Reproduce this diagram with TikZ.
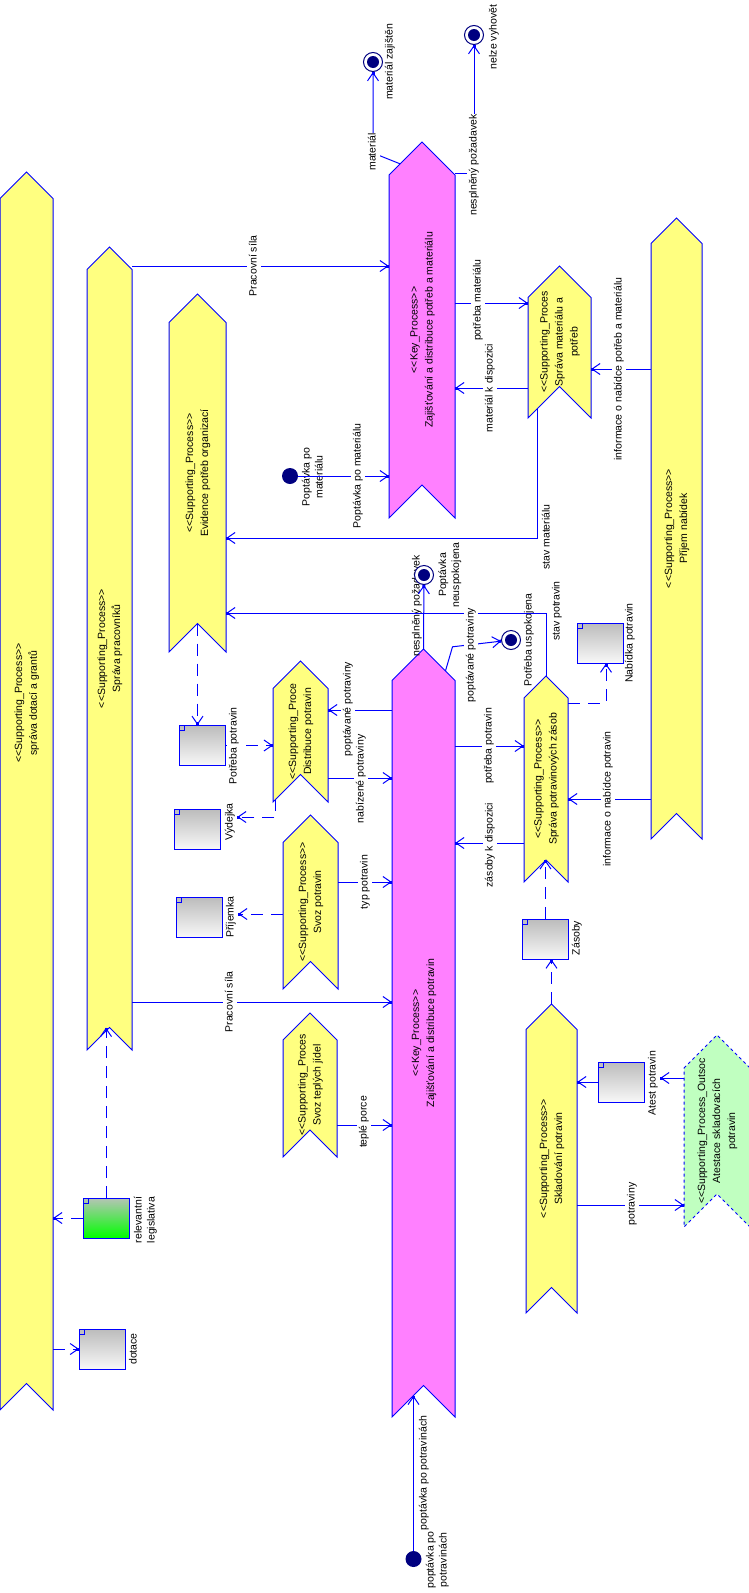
\documentclass[tikz,border=0pt]{standalone}
\usepackage{fontspec}
\setmainfont{Liberation Sans}
\usepackage{graphicx}
\usepackage{tikz}
\usetikzlibrary{shapes.misc, arrows.meta, calc}
\definecolor{procyellow}{RGB}{255,255,128}
\definecolor{keypink}{RGB}{255,128,255}
\definecolor{outgreen}{RGB}{192,255,192}
\definecolor{lineblue}{RGB}{0,0,255}
\definecolor{dotnavy}{RGB}{0,0,128}
\definecolor{docgray}{RGB}{188,188,188}
\definecolor{docwhite}{RGB}{248,248,248}
\definecolor{legtop}{RGB}{182,196,182}
\definecolor{legbot}{RGB}{0,255,0}
% rotated text, reading upwards
\newcommand{\vt}[1]{\rotatebox{90}{\begin{tabular}{@{}c@{}}#1\end{tabular}}}
\newcommand{\vtz}[1]{\rotatebox{90}{\makebox[0pt]{\begin{tabular}{@{}c@{}}#1\end{tabular}}}}
\newcommand{\stO}{<\kern0pt<}
\newcommand{\stC}{>\kern0pt>}
% process banner: style, name, centre x, tip y, bottom y, width, text
\newcommand{\banner}[7]{%
  \draw[#1] ({#3-#6/2},{#4+#6/2}) -- (#3,#4) -- ({#3+#6/2},{#4+#6/2})
    -- ({#3+#6/2},#5) -- (#3,{#5-#6/2}) -- ({#3-#6/2},#5) -- cycle;
  \node[proctxt, minimum width=#6, minimum height={#5-#4}] (#2)
    at (#3,{(#4+#5)/2}) {#7};}
\tikzset{
  procbody/.style={draw=lineblue, fill=procyellow, line width=1pt},
  keybody/.style={procbody, fill=keypink},
  outbody/.style={procbody, fill=outgreen, dash pattern=on 3pt off 3pt},
  proctxt/.style={rectangle, inner sep=0pt, font=\fontsize{10.5}{15}\selectfont},
  doc/.style={chamfered rectangle, chamfered rectangle corners=north west,
    chamfered rectangle xsep=5pt, chamfered rectangle ysep=5pt,
    draw=lineblue, line width=1pt, top color=docgray, bottom color=docwhite,
    minimum width=46, minimum height=40, inner sep=0pt,
    path picture={\draw[lineblue, line width=0.6pt]
      ([yshift=-5pt]path picture bounding box.north west)
      -| ([xshift=5pt]path picture bounding box.north west);}},
  finalst/.style={circle, draw=dotnavy, line width=1pt, fill=white,
    minimum size=19pt, inner sep=0pt,
    path picture={\fill[dotnavy] (path picture bounding box.center) circle (6pt);}},
  initst/.style={circle, fill=dotnavy, minimum size=16pt, inner sep=0pt},
  lbl/.style={inner sep=0.5pt, font=\fontsize{10.5}{13}\selectfont},
  onlbl/.style={lbl, fill=white},
  flow/.style={draw=lineblue, line width=1pt,
    -{Straight Barb[length=8pt,width=11pt,sep=-3pt]Square[length=3pt,width=3pt]}},
  dflow/.style={flow, dash pattern=on 12pt off 8pt}
}

\begin{document}
\begin{tikzpicture}[x=1pt, y=-1pt]
  \useasboundingbox (0,0) rectangle (749,1593);
  % ── processes ─────────────────────────────────────────────────────────────
  \banner{procbody}{dotace}{26.5}{172}{1410}{53}{}
  \node[proctxt] (dotaceTxt) at (26.5,703)
    {\vtz{\stO Supporting\_Process\stC\\správa dotací a grantů}};
  \banner{procbody}{pracov}{109.5}{247}{1050}{45}
    {\vtz{\stO Supporting\_Process\stC\\Správa pracovníků}}
  \banner{procbody}{evid}{197.5}{294}{652}{57}
    {\vtz{\stO Supporting\_Process\stC\\Evidence potřeb organizací}}
  \banner{keybody}{keyMat}{422}{142}{518}{66}
    {\vtz{\stO Key\_Process\stC\\Zajišťování a distribuce potřeb a materiálu}}
  \banner{procbody}{sprMat}{559.5}{266}{418}{63}
    {\vtz{\stO Supporting\_Proces\\Správa materiálu a\\potřeb}}
  \banner{procbody}{prijem}{676.5}{218}{839}{51}
    {\vtz{\stO Supporting\_Process\stC\\Příjem nabídek}}
  \banner{keybody}{keyPot}{423.5}{649}{1417}{63}
    {\vtz{\stO Key\_Process\stC\\Zajišťování a distribuce potravin}}
  \banner{procbody}{distr}{300.5}{661}{802}{55}
    {\vtz{\stO Supporting\_Proce\\Distribuce potravin}}
  \banner{procbody}{svoz}{310.5}{815}{989}{55}
    {\vtz{\stO Supporting\_Process\stC\\Svoz potravin}}
  \banner{procbody}{tepla}{310}{1013}{1157}{54}
    {\vtz{\stO Supporting\_Proces\\Svoz teplých jídel}}
  \banner{procbody}{zasob}{546}{676}{882}{44}
    {\vtz{\stO Supporting\_Process\stC\\Správa potravinových zásob}}
  \banner{procbody}{sklad}{551.5}{1004}{1313}{51}
    {\vtz{\stO Supporting\_Process\stC\\Skladování potravin}}
  \banner{outbody}{atest}{717}{1035}{1227}{66}
    {\vtz{\stO Supporting\_Process\_Outsoc\\Atestace skladovacích\\potravin}}
  \coordinate (evidNotch) at ($(evid.south)+(0,-28.5)$);
  \coordinate (pracovNotch) at ($(pracov.south)+(0,-22.5)$);
  \coordinate (zasobNotch) at ($(zasob.south)+(0,-22)$);
  \coordinate (keyPotNotch) at ($(keyPot.south)+(0,-31.5)$);
  % ── documents ─────────────────────────────────────────────────────────────
  \node[doc] (potDoc) at (202.5,745.5) {};
  \node[doc] (vydDoc) at (197.5,829) {};
  \node[doc] (prijDoc) at (199.5,917) {};
  \node[doc, top color=legtop, bottom color=legbot] (legDoc) at (106,1218) {};
  \node[doc] (dotDoc) at (102.5,1349) {};
  \node[doc] (nabDoc) at (600,643) {};
  \node[doc] (zasDoc) at (545.5,939) {};
  \node[doc] (atDoc) at (621.5,1082) {};
  % ── start and end states ──────────────────────────────────────────────────
  \node[lbl] (lNespl2) at (417,606) {\vt{nesplněný požadavek}};
  \node[finalst] (matZaj) at (373,62) {};
  \node[finalst] (nelze) at (474,35) {};
  \node[finalst] (neusp) at (424,575) {};
  \node[finalst] (uspok) at (511,640) {};
  \node[initst] (ipMat) at (290,476) {};
  \node[initst] (ipPot) at (413.5,1559) {};
  % ── free labels ───────────────────────────────────────────────────────────
  \node[lbl] (lMatZaj) at (390,62) {\vt{materiál zajištěn}};
  \node[lbl] (lNelze) at (494,37) {\vt{nelze vyhovět}};
  \node[lbl] (lStavMat) at (547,537) {\vt{stav materiálu}};
  \node[lbl] (lIpMat) at (313.5,477) {\vt{Poptávka po\\materiálu}};
  \node[lbl] (lStavPot) at (557,611) {\vt{stav potravin}};
  \node[lbl] (lNeusp) at (450,575) {\vt{Poptávka\\neuspokojena}};
  \node[lbl] (lUspok) at (529,640) {\vt{Potřeba uspokojena}};
  \node[lbl] (lVyd) at (230,822) {\vt{Výdejka}};
  \node[lbl] (lPrij) at (231,917) {\vt{Příjemka}};
  \node[lbl] (lNabDoc) at (630,643) {\vt{Nabídka potravin}};
  \node[lbl] (lZasDoc) at (577,938) {\vt{Zásoby}};
  \node[lbl] (lAtDoc) at (653,1083) {\vt{Atest potravin}};
  \node[lbl] (lLeg) at (145.5,1220) {\vt{relevantní\\legislativa}};
  \node[lbl] (lDotDoc) at (134,1349) {\vt{dotace}};
  \node[lbl] (lPoptPot) at (424,1473) {\vt{poptávka po potravinách}};
  \node[lbl] (lIpPot) at (437.5,1560) {\vt{poptávka po\\potravinách}};
  % ── connectors, material ──────────────────────────────────────────────────
  \draw[flow] ($(keyMat.north)+(-22,22)$) -- (matZaj |- 0,153) -- (matZaj);
  \draw[flow] (keyMat.east |- 0,173) -- (nelze |- 0,173) -- (nelze);
  \draw[flow] (pracov.east |- 0,266) -- (keyMat.west |- 0,266);
  \draw[flow] (keyMat.east |- 0,303) -- (sprMat.west |- 0,303);
  \draw[flow] (sprMat.west |- 0,388) -- (keyMat.east |- 0,388);
  \draw[flow] (prijem.west |- 0,369) -- (sprMat.east |- 0,369);
  \draw[flow] ($(sprMat.west)+(10,66)$) |- (evid.east |- 0,538);
  \draw[flow] (ipMat) -- (keyMat.west |- ipMat);
  % ── connectors, food ──────────────────────────────────────────────────────
  \draw[flow] (zasob.north) |- (evid.east |- 0,613);
  \draw[flow] (keyPot.north) -- (neusp);
  \draw[flow] ($(keyPot.north)+(22,22)$) -- ++(7,-24) -- (uspok);
  \draw[flow] (keyPot.west |- 0,710) -- (distr.east |- 0,710);
  \draw[flow] (distr.east |- 0,778) -- (keyPot.west |- 0,778);
  \draw[dflow] (evidNotch) -- (evidNotch |- potDoc.north);
  \draw[dflow] (potDoc.east) -- (distr.west |- potDoc.east);
  \draw[dflow] ($(distr.west)+(3,67)$) |- (lVyd.east |- 0,817);
  \draw[dflow] (svoz.west |- 0,914) -- (lPrij.east |- 0,914);
  \draw[flow] (svoz.east |- 0,882) -- (keyPot.west |- 0,882);
  \draw[flow] (pracov.east |- 0,1002) -- (keyPot.west |- 0,1002);
  \draw[flow] (tepla.east |- 0,1125) -- (keyPot.west |- 0,1125);
  \draw[flow] (keyPot.east |- 0,746) -- (zasob.west |- 0,746);
  \draw[flow] (zasob.west |- 0,843) -- (keyPot.east |- 0,843);
  \draw[flow] (prijem.west |- 0,799) -- (zasob.east |- 0,799);
  \draw[dflow] (zasob.east |- 0,703) -| ([xshift=6pt]nabDoc.south);
  \draw[dflow] (zasDoc.north) -- (zasDoc.north |- zasobNotch);
  \draw[dflow] (sklad.north) -- (sklad.north |- zasDoc.south);
  \draw[flow] (atDoc.west) -- (sklad.east |- atDoc.west);
  \draw[flow] (atest.west |- 0,1078) -- (lAtDoc.east |- 0,1078);
  \draw[flow] (sklad.east |- 0,1205) -- (atest.west |- 0,1205);
  % ── connectors, left ──────────────────────────────────────────────────────
  \draw[dflow] (legDoc.north) -- (legDoc.north |- pracovNotch);
  \draw[dflow] (legDoc.west) -- (dotace.east |- legDoc.west);
  \draw[dflow] (dotace.east |- dotDoc.west) -- (dotDoc.west);
  \draw[flow] (ipPot) -- ($(keyPotNotch)+(-10,10)$);
  % ── labels on connectors ──────────────────────────────────────────────────
  \node[onlbl] (lMaterial) at (373,152) {\vt{materiál}};
  \node[onlbl] (lNespl1) at (474,165) {\vt{nesplněný požadavek}};
  \node[onlbl] (lPrac1) at (254,266) {\vt{Pracovní síla}};
  \node[onlbl] (lPotrMat) at (478,300) {\vt{potřeba materiálu}};
  \node[onlbl] (lMatDisp) at (490,388) {\vt{materiál k dispozici}};
  \node[onlbl] (lInfoMat) at (619,369) {\vt{informace o nabídce potřeb a materiálu}};
  \node[onlbl] (lPoptMat) at (358,476) {\vt{Poptávka po materiálu}};
  \node[onlbl] (lPoptPot1) at (471,655) {\vt{poptávané potraviny}};
  \node[onlbl] (lPoptPot2) at (348,709) {\vt{poptávané potraviny}};
  \node[onlbl] (lNabPot) at (361,779) {\vt{nabízené potraviny}};
  \node[onlbl] (lPotrPot) at (234,746) {\vt{Potřeba potravin}};
  \node[onlbl] (lTyp) at (365,882) {\vt{typ potravin}};
  \node[onlbl] (lPrac2) at (230,1002) {\vt{Pracovní síla}};
  \node[onlbl] (lTepla) at (364,1122) {\vt{teplé porce}};
  \node[onlbl] (lPotrZas) at (489,746) {\vt{potřeba potravin}};
  \node[onlbl] (lZasDisp) at (490,845) {\vt{zásoby k dispozici}};
  \node[onlbl] (lInfoPot) at (608,799) {\vt{informace o nabídce potravin}};
  \node[onlbl] (lPotraviny) at (632,1204) {\vt{potraviny}};
\end{tikzpicture}
\end{document}
